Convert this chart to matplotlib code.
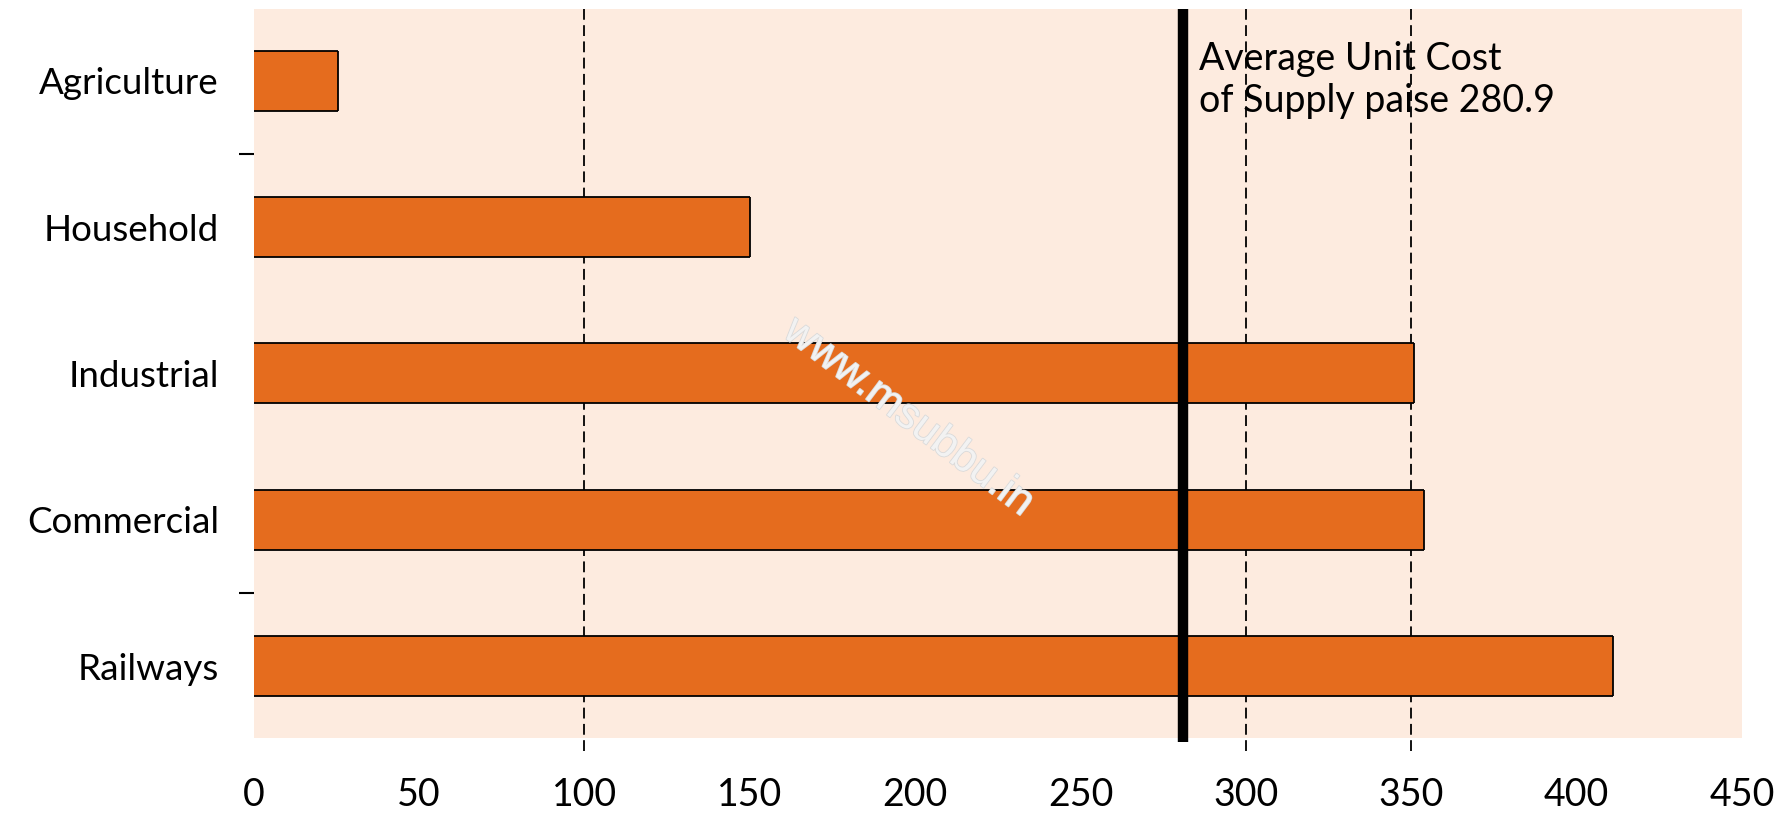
import numpy as np
import matplotlib
matplotlib.use('Agg')
import matplotlib.pyplot as plt
import matplotlib.patheffects as pe

sectors = ['Agriculture', 'Household', 'Industrial', 'Commercial', 'Railways']
cost = [25.5, 150, 351, 354, 411]          # paise per unit
avg_cost = 280.9
grid_at = [100, 300, 350]
xticks = [0, 50, 100, 150, 200, 250, 300, 350, 400, 450]

plt.rcParams['font.family'] = ['Lato', 'DejaVu Sans']

fig = plt.figure(figsize=(17.91, 8.13), dpi=100)
ax = fig.add_axes([0.1416, 0.0923, 0.8310, 0.8967])
ax.set_facecolor('#FDEBDF')

y = np.arange(len(sectors))
h = 0.41
ax.barh(y, cost, height=h, color='#E56C1E', zorder=2)
# outline on top, bottom and right side of each bar
ax.hlines(y - h / 2, 0, cost, color='black', lw=1.3, zorder=3)
ax.hlines(y + h / 2, 0, cost, color='black', lw=1.3, zorder=3)
ax.vlines(cost, y - h / 2, y + h / 2, color='black', lw=1.3, zorder=3)

ax.set_xlim(0, 450)
ax.set_ylim(4.49, -0.49)

for g in grid_at:
    ax.plot([g, g], [4.58, -0.49], color='black', lw=1.3, ls=(0, (6, 3)),
            zorder=1, clip_on=False)

ax.plot([avg_cost, avg_cost], [4.52, -0.49], color='black', lw=7.5,
        solid_capstyle='butt', zorder=4, clip_on=False)
ax.text(avg_cost + 5, -0.27, 'Average Unit Cost\nof Supply paise %.1f' % avg_cost,
        ha='left', va='top', fontsize=27, linespacing=1.2, zorder=5)

ax.set_xticks(xticks)
ax.set_xticklabels([str(t) for t in xticks])
ax.tick_params(axis='x', length=0, pad=28, labelsize=27)
ax.set_yticks(y)
ax.set_yticklabels(sectors)
ax.tick_params(axis='y', which='major', length=0, pad=25, labelsize=26.5)
ax.set_yticks([0.5, 3.5], minor=True)
ax.tick_params(axis='y', which='minor', length=11, width=1.5, direction='out')

for s in ax.spines.values():
    s.set_visible(False)

fig.text(0.507, 0.487, 'www.msubbu.in', rotation=-37, fontsize=31,
         color='#F2F2F2', ha='center', va='center', family='Liberation Sans',
         zorder=10,
         path_effects=[pe.withStroke(linewidth=1.2, foreground='#DADADA')])

fig.savefig('out.png', dpi=100)
